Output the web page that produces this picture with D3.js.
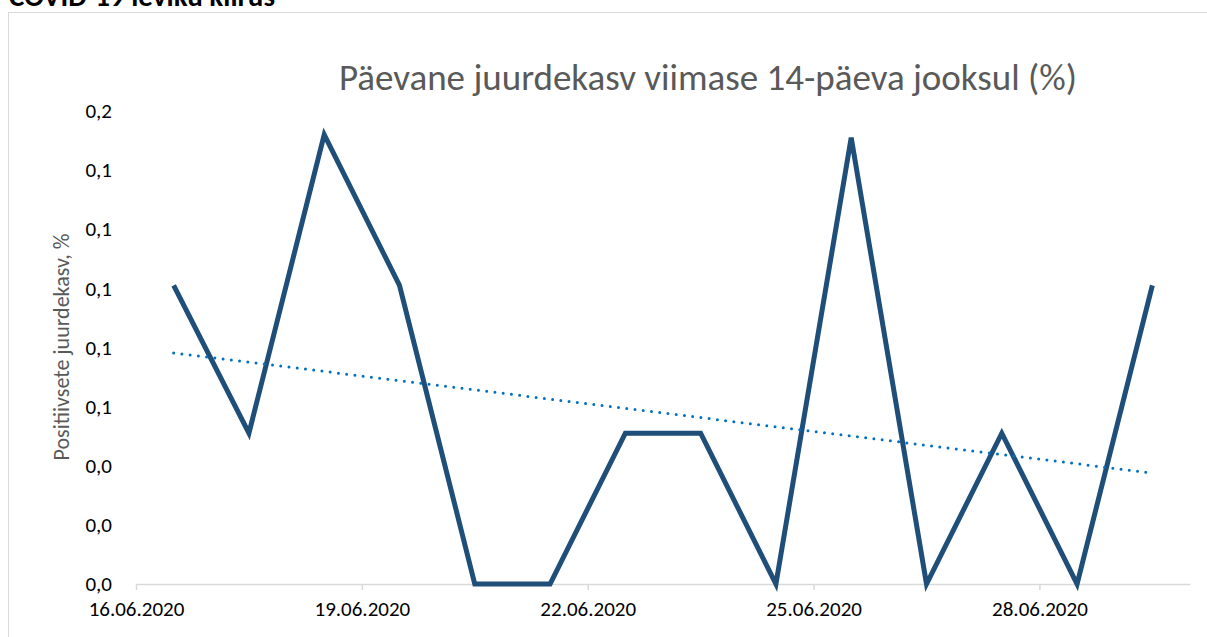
<!DOCTYPE html>
<html>
<head>
<meta charset="utf-8">
<script src="https://cdn.jsdelivr.net/npm/d3@7"></script>
<style>
  body { margin: 0; background: #fff; }
  svg { display: block; font-family: Carlito, "Open Sans", "Noto Sans", sans-serif; }
</style>
</head>
<body>
<svg id="chart" width="1207" height="637"></svg>
<script>
// data
const days = ["16.06.2020", "17.06.2020", "18.06.2020", "19.06.2020", "20.06.2020", "21.06.2020", "22.06.2020",
    "23.06.2020", "24.06.2020", "25.06.2020", "26.06.2020", "27.06.2020", "28.06.2020", "29.06.2020"];
const values = [0.101, 0.051, 0.152, 0.101, 0, 0, 0.051, 0.051, 0, 0.151, 0, 0.051, 0, 0.101];
const yTicks = [0, 0.02, 0.04, 0.06, 0.08, 0.10, 0.12, 0.14, 0.16];
const xTickDays = ["16.06.2020", "19.06.2020", "22.06.2020", "25.06.2020", "28.06.2020"];

const parseDate = d3.timeParse("%d.%m.%Y");
const fmtDate = d3.timeFormat("%d.%m.%Y");
const data = days.map((d, i) => ({ date: parseDate(d), value: values[i] }));

const svg = d3.select("#chart");

const margin = { left: 136, right: 17, top: 111, bottom: 53 };
const width = 1207 - margin.left - margin.right;
const height = 637 - margin.top - margin.bottom;
const tickFont = 'Carlito, "Open Sans", "Noto Sans", sans-serif';

// outer frame (right/bottom sides fall outside the picture)
svg.append("rect")
    .attr("x", 8.5).attr("y", 12.5)
    .attr("width", 1220).attr("height", 640)
    .attr("fill", "none")
    .attr("stroke", "#d9d9d9")
    .attr("stroke-width", 1);

svg.append("text")
    .attr("x", 9).attr("y", 6)
    .style("font-size", "29px")
    .style("font-weight", "bold")
    .attr("fill", "#000")
    .text("COVID-19 leviku kiirus");

const g = svg.append("g").attr("transform", `translate(${margin.left},${margin.top})`);

const start = parseDate(days[0]);
const end = d3.timeDay.offset(parseDate(days[days.length - 1]), 1);
const x = d3.scaleTime().domain([start, end]).range([0, width]);
const y = d3.scaleLinear().domain([0, 0.16]).range([height, 0]);
// points sit in the middle of their day
const px = d => x(d3.timeHour.offset(d, 12));

// x axis
const xAxis = g.append("g")
    .attr("transform", `translate(0,${height})`)
    .call(d3.axisBottom(x)
        .tickValues(xTickDays.map(parseDate))
        .tickFormat(fmtDate)
        .tickSize(6)
        .tickSizeOuter(0)
        .tickPadding(11));
xAxis.select(".domain").attr("stroke", "#d9d9d9").attr("stroke-width", 1.5);
xAxis.selectAll(".tick line").attr("stroke", "#d9d9d9").attr("stroke-width", 1.5);
xAxis.selectAll(".tick text")
    .attr("fill", "#000")
    .style("font-size", "21px")
    .style("font-family", tickFont);

// y axis (labels only)
const yAxis = g.append("g")
    .call(d3.axisLeft(y)
        .tickValues(yTicks)
        .tickFormat(d => d3.format(".1f")(d).replace(".", ","))
        .tickSize(0)
        .tickPadding(24));
yAxis.select(".domain").remove();
yAxis.selectAll(".tick text")
    .attr("fill", "#000")
    .style("font-size", "21px")
    .style("font-family", tickFont);

// main line
const line = d3.line()
    .x(d => px(d.date))
    .y(d => y(d.value));

g.append("path")
    .datum(data)
    .attr("fill", "none")
    .attr("stroke", "#1f4e79")
    .attr("stroke-width", 5)
    .attr("stroke-linejoin", "miter")
    .attr("d", line);

// linear trendline (least squares over the day index)
const idx = data.map((d, i) => i);
const mx = d3.mean(idx), my = d3.mean(values);
const slope = d3.sum(idx, i => (i - mx) * (values[i] - my)) / d3.sum(idx, i => (i - mx) * (i - mx));
const icpt = my - slope * mx;
const trend = [0, data.length - 1].map(i => ({
    date: data[i].date,
    value: icpt + slope * i
}));

g.append("path")
    .datum(trend)
    .attr("fill", "none")
    .attr("stroke", "#0070c0")
    .attr("stroke-width", 3)
    .attr("stroke-linecap", "round")
    .attr("stroke-dasharray", "0,8.3")
    .attr("d", line);

// titles
svg.append("text")
    .attr("x", 708).attr("y", 90)
    .attr("text-anchor", "middle")
    .attr("fill", "#595959")
    .style("font-size", "37px")
    .text("Päevane juurdekasv viimase 14-päeva jooksul (%)");

svg.append("text")
    .attr("transform", "translate(69,347) rotate(-90)")
    .attr("text-anchor", "middle")
    .attr("fill", "#595959")
    .style("font-size", "22px")
    .text("Positiivsete juurdekasv, %");
</script>
</body>
</html>
